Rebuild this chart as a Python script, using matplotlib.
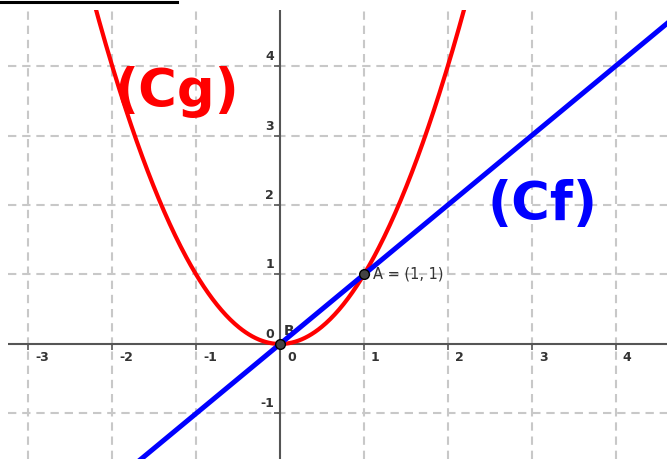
import numpy as np
import matplotlib.pyplot as plt
from matplotlib.lines import Line2D

# function coefficients: g(x) = a*x^2 + b*x + c, f(x) = m*x + p
g_coef = [1.0, 0.0, 0.0]
f_coef = [1.0, 0.0]

# named points
pt_names = ['A', 'B']
pt_x = [1.0, 0.0]
pt_y = [1.0, 0.0]
pt_labels = ['A = (1, 1)', 'B']

x_ticks = [-3, -2, -1, 0, 1, 2, 3, 4]
y_ticks = [-1, 0, 1, 2, 3, 4]

fig = plt.figure(figsize=(6.67, 4.59), dpi=100)
ax = fig.add_axes([8 / 667, 0, 659 / 667, 449 / 459])
xmin, xmax = -3.242, 4.612
ymin, ymax = -1.655, 4.806
ax.set_xlim(xmin, xmax)
ax.set_ylim(ymin, ymax)
for s in ax.spines.values():
    s.set_visible(False)
ax.set_xticks([])
ax.set_yticks([])

# dashed grid
for x in x_ticks:
    if x != 0:
        ax.axvline(x, color='#c8c8c8', lw=1.5, ls=(0, (4, 2.8)), zorder=0)
for y in y_ticks:
    if y != 0:
        ax.axhline(y, color='#c8c8c8', lw=1.5, ls=(0, (4, 2.8)), zorder=0)

# axes
ax.axhline(0, color='#555555', lw=1.5, zorder=1)
ax.axvline(0, color='#555555', lw=1.5, zorder=1)
ax.plot(x_ticks, [0] * len(x_ticks), ls='none', marker=3, ms=4, mew=1.2, color='#555555', zorder=1)
ax.plot([0] * len(y_ticks), y_ticks, ls='none', marker=0, ms=4, mew=1.2, color='#555555', zorder=1)

# tick labels
for x in x_ticks:
    ax.annotate(str(x), (x, 0), xytext=(7, -7), textcoords='offset pixels',
                ha='left', va='top', fontsize=9, fontweight='bold', color='#333333')
for y in y_ticks:
    ax.annotate(str(y), (0, y), xytext=(-6, 3), textcoords='offset pixels',
                ha='right', va='bottom', fontsize=9, fontweight='bold', color='#333333')

# curves
xs = np.linspace(xmin, xmax, 600)
ax.plot(xs, g_coef[0] * xs**2 + g_coef[1] * xs + g_coef[2], color='#ff0000', lw=3, zorder=3)
ax.plot(xs, f_coef[0] * xs + f_coef[1], color='#0000ff', lw=3.6, zorder=4)

# points
ax.plot(pt_x, pt_y, ls='none', marker='o', ms=7, mfc='#444444', mec='black', mew=1, zorder=5)
ax.annotate(pt_labels[0], (pt_x[0], pt_y[0]), xytext=(9, 0), textcoords='offset pixels',
            ha='left', va='center', fontsize=10.5, color='#333333')
ax.annotate(pt_labels[1], (pt_x[1], pt_y[1]), xytext=(4, 6), textcoords='offset pixels',
            ha='left', va='bottom', fontsize=10, fontweight='bold', color='#333333')

# curve names
ax.text(-1.97, 3.63, '(Cg)', color='#ff0000', fontsize=38, fontweight='bold', ha='left', va='center')
ax.text(2.47, 2.0, '(Cf)', color='#0000ff', fontsize=38, fontweight='bold', ha='left', va='center')

# black line at top-left
fig.add_artist(Line2D([0, 177 / 667], [1 - 1.5 / 459, 1 - 1.5 / 459], color='black', lw=2.2))

fig.savefig('out.png', dpi=100)
